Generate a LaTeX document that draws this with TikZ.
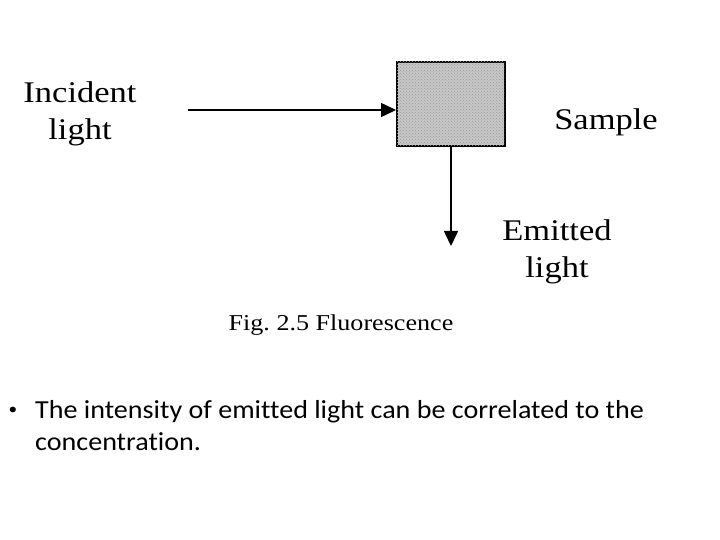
\documentclass[tikz,border=0pt]{standalone}
\usepackage{fontspec}
\usetikzlibrary{%
        arrows.meta,
        patterns
    }
\newfontfamily\figfont[FakeStretch=1.15]{Liberation Serif}
\newfontfamily\slidefont[FakeStretch=1.08, Ligatures=NoCommon]{Carlito}
\tikzset{%
    label text/.style={font=\figfont\fontsize{30}{37}\selectfont,
        align=center, anchor=base, inner sep=0},
    slide text/.style={font=\slidefont\fontsize{26}{32}\selectfont,
        align=left, inner sep=0},
    light ray/.style={line width=1.5pt, -{Triangle[length=15pt, width=14pt]}},
    sample box/.style={draw, line width=2pt, fill=black!22,
        postaction={pattern=crosshatch dots, pattern color=black!40},
        minimum width=108pt, minimum height=84pt, inner sep=0}
}

\begin{document}
\begin{tikzpicture}[x=1pt, y=-1pt]

    \useasboundingbox (0, 0) rectangle (720, 540);

    % Sample
    \node[sample box] (sample) at (451, 104) {};
    \node[label text] (samplelabel) at (606, 130) {Sample};

    % Incident light
    \node[label text] (incident) at (80, 140) {Incident\\light};
    \coordinate (source) at (188, 110);
    \draw[light ray] (source) -- (source -| sample.west);

    % Emitted light
    \coordinate (emittedend) at (451, 246);
    \draw[light ray] (sample.south) -- (emittedend);
    \node[label text] (emitted) at (557, 277) {Emitted\\light};

    % Caption
    \node[label text, font=\figfont\fontsize{22.7}{27}\selectfont] (caption)
        at (341, 330) {Fig.\ 2.5 Fluorescence};

    % Bullet point
    \node[slide text, font=\slidefont\fontsize{16}{16}\selectfont] (dot)
        at (13, 411) {\textbullet};
    \node[slide text, anchor=base west] (point) at (35, 450)
        {The intensity of emitted light can be correlated to the\\concentration.};

\end{tikzpicture}
\end{document}
